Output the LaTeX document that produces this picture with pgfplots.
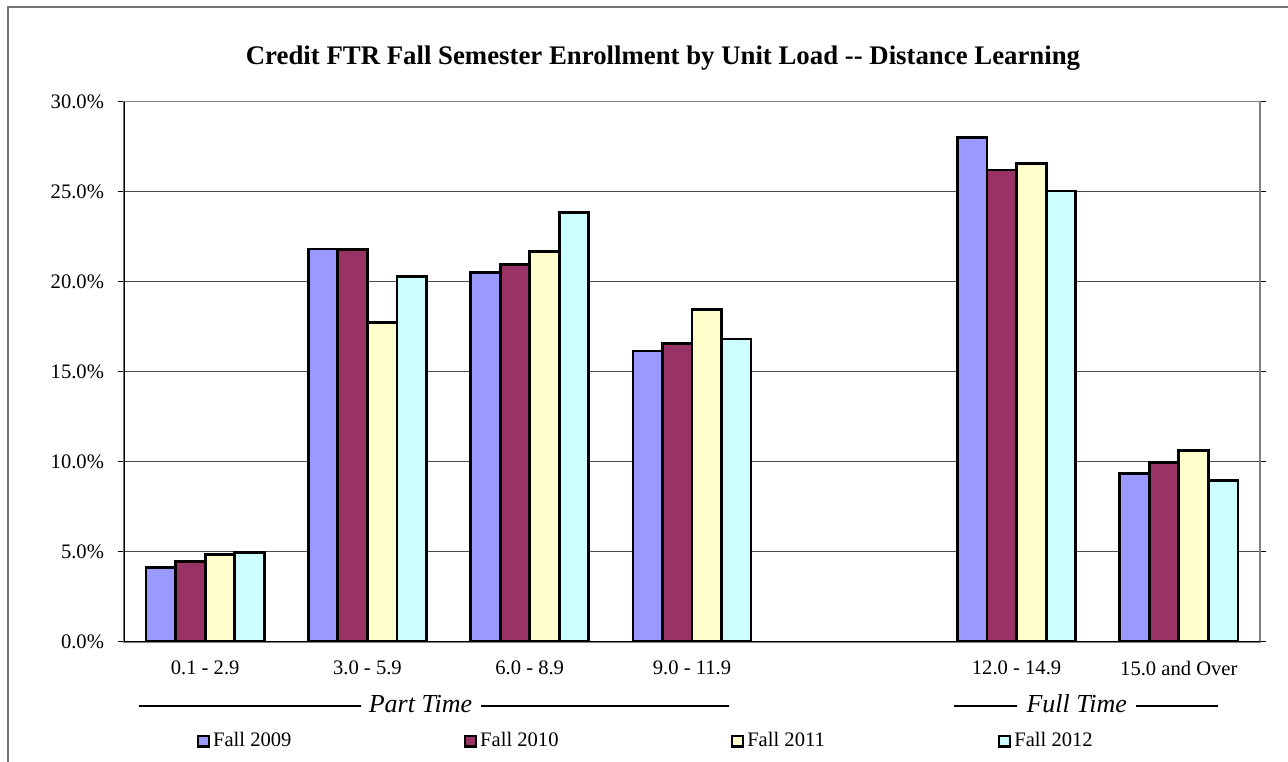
\documentclass[border=0pt]{standalone}
\usepackage{pgfplots}
\pgfplotsset{compat=1.18}
\usepackage{fontspec}
\setmainfont{Liberation Serif}

\definecolor{cA}{HTML}{9999FF}
\definecolor{cB}{HTML}{993366}
\definecolor{cC}{HTML}{FFFFCC}
\definecolor{cD}{HTML}{CCFFFF}

\pgfplotstableread{
x  a     b     c     d
0  4.13  4.44  4.83  4.97
1  21.82 21.80 17.75 20.28
2  20.52 20.94 21.67 23.86
3  16.15 16.56 18.45 16.82
5  28.02 26.20 26.58 25.04
6  9.33  9.97  10.61 8.94
}\datatab

\begin{document}
\begin{tikzpicture}
\useasboundingbox (-62bp,-60.15bp) rectangle (582bp,320.85bp);
\fill[white] (-62bp,-60.15bp) rectangle (582bp,320.85bp);
\draw[black!55, line width=0.9bp] (-58bp,-70bp) -- (-58bp,317.35bp) -- (600bp,317.35bp);
\begin{axis}[
  scale only axis, width=568bp, height=270bp,
  xmin=-0.5, xmax=6.5, ymin=0, ymax=30,
  ybar, bar width=0.182,
  axis line style={draw=black!50, line width=0.8bp},
  xtick={0,1,2,3,5,6},
  xticklabels={0.1 - 2.9, 3.0 - 5.9, 6.0 - 8.9, 9.0 - 11.9, 12.0 - 14.9, 15.0 and Over},
  minor xtick={-0.5,0.5,1.5,2.5,3.5,4.5,5.5,6.5},
  xtick style={draw=none},
  minor tick style={draw=black, line width=0.6bp},
  minor tick length=3bp,
  ytick={0,5,10,15,20,25,30},
  yticklabels={0.0\%,5.0\%,10.0\%,15.0\%,20.0\%,25.0\%,30.0\%},
  ytick style={draw=black, line width=0.6bp},
  major tick length=3bp,
  tick align=outside,
  ymajorgrids, grid style={black!70, line width=0.5bp},
  ticklabel style={font=\fontsize{10.3bp}{12bp}\selectfont},
  yticklabel style={xshift=-3.5bp},
  xticklabel style={yshift=-3bp},
  legend columns=4,
  legend style={at={(axis description cs:0.06426,-0.1839)}, anchor=west, draw=none, fill=none,
    inner sep=0pt, outer sep=0pt, font=\fontsize{10.3bp}{12bp}\selectfont,
    nodes={inner sep=0pt}, /tikz/every even column/.append style={column sep=0pt},
    /tikz/every odd column/.append style={column sep=0pt}},
  every axis plot/.append style={draw=black, line width=1.4bp,
    legend image code/.code={\draw[##1, line width=1.1bp] (0bp,-2.7bp) rectangle (5.4bp,2.7bp); \path (6.8bp,0bp);}},
]
\addplot[fill=cA, bar shift=-0.273] table[x=x,y=a]{\datatab};
\addplot[fill=cB, bar shift=-0.091] table[x=x,y=b]{\datatab};
\addplot[fill=cC, bar shift=0.091] table[x=x,y=c]{\datatab};
\addplot[fill=cD, bar shift=0.273] table[x=x,y=d]{\datatab};
\legend{\makebox[125.5bp][l]{Fall 2009},\makebox[125.5bp][l]{Fall 2010},\makebox[125.5bp][l]{Fall 2011},\makebox[125.5bp][l]{Fall 2012}}
\draw[black, line width=0.8bp] (axis description cs:0,1) -- (axis description cs:0,0) -- (axis description cs:1,0);
\end{axis}
\node[font=\bfseries\fontsize{13.4bp}{15bp}\selectfont] at (269.5bp,291.85bp) {Credit FTR Fall Semester Enrollment by Unit Load -{}- Distance Learning};
\draw[line width=1bp] (7.5bp,-32bp) -- (118.5bp,-32bp);
\draw[line width=1bp] (178.5bp,-32bp) -- (302.5bp,-32bp);
\node[font=\itshape\fontsize{13bp}{15bp}\selectfont, anchor=base] at (148.25bp,-35.5bp) {Part Time};
\draw[line width=1bp] (415bp,-32bp) -- (446.5bp,-32bp);
\draw[line width=1bp] (506bp,-32bp) -- (546.85bp,-32bp);
\node[font=\itshape\fontsize{13bp}{15bp}\selectfont, anchor=base] at (476.35bp,-35.5bp) {Full Time};
\end{tikzpicture}
\end{document}
